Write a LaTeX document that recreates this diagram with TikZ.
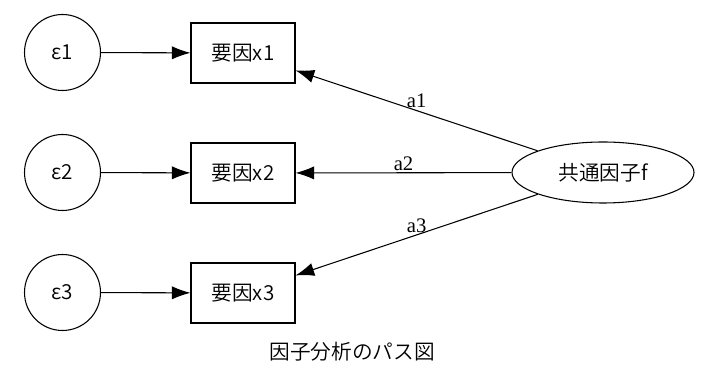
\documentclass[tikz,border=0pt]{standalone}
\usepackage{fontspec}
\setmainfont{Liberation Serif}
\newfontfamily\cjk{Noto Sans CJK JP}[UprightFont=* DemiLight]
\usetikzlibrary{arrows.meta,shapes.geometric}

\begin{document}
\begin{tikzpicture}[x=0.75pt, y=-0.75pt,
	every node/.style={font=\cjk\fontsize{15.5}{18}\selectfont},
	errnode/.style={draw, circle, thick, minimum size=57pt, inner sep=0pt},
	varbox/.style={draw, thick, minimum width=78pt, minimum height=45pt, inner sep=0pt},
	facnode/.style={draw, ellipse, thick, minimum width=136.5pt, minimum height=45.75pt, inner sep=0pt},
	path/.style={-{Latex[length=14pt,width=10pt]}, thick},
	coef/.style={font=\rmfamily\fontsize{15.5}{18}\selectfont, above, inner sep=1.5pt}]
	\useasboundingbox (0,0) rectangle (711,377);
	% --- 誤差と観測変数 ---
	\node[errnode] (e1) at (62.5,52.5) {ε1};
	\node[errnode] (e2) at (62.5,172.5) {ε2};
	\node[errnode] (e3) at (62.5,292.5) {ε3};
	\node[varbox] (x1) at (243,53) {要因x1};
	\node[varbox] (x2) at (243,173) {要因x2};
	\node[varbox] (x3) at (243,293) {要因x3};
	\draw[path] (e1) -- (x1);
	\draw[path] (e2) -- (x2);
	\draw[path] (e3) -- (x3);
	% --- 共通因子 ---
	\node[facnode] (f) at (603,172.5) {共通因子f};
	\draw[path] (f) -- node[coef] {a1} (x1);
	\draw[path] (f) -- node[coef] {a2} (x2);
	\draw[path] (f) -- node[coef] {a3} (x3);
	% キャプション
	\node (cap) at (352,352) {因子分析のパス図};
\end{tikzpicture}
\end{document}
